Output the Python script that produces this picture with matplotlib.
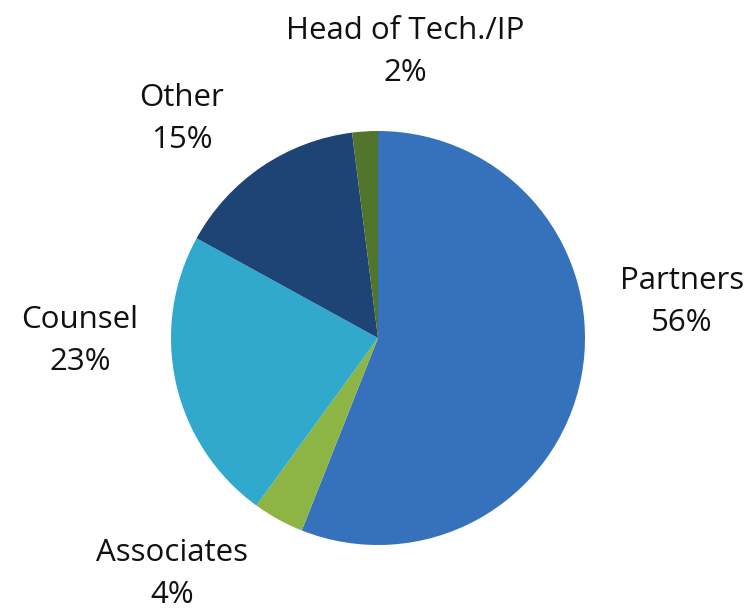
import matplotlib.pyplot as plt

# Data
labels = ['Partners', 'Associates', 'Counsel', 'Other', 'Head of Tech./IP']
shares = [56, 4, 23, 15, 2]
colors = ['#3672bb', '#8db545', '#31a9cc', '#1e4475', '#52742b']

# label anchor positions (pixels, top-left origin) for the text blocks
label_pos = [(682, 302), (172, 574), (80, 341), (182, 119), (405, 52)]

W, H = 753, 609
fig = plt.figure(figsize=(W / 100, H / 100), dpi=100)
fig.patch.set_facecolor('white')
ax = fig.add_axes([0, 0, 1, 1])

ax.pie(shares, colors=colors, startangle=90, counterclock=False,
       center=(378, H - 338), radius=207, frame=True,
       wedgeprops=dict(linewidth=0))
ax.set_xlim(0, W)
ax.set_ylim(0, H)
ax.set_aspect('equal')
ax.axis('off')

for lab, val, (x, y) in zip(labels, shares, label_pos):
    ax.text(x, H - y, f'{lab}\n{val}%', ha='center', va='center',
            fontsize=22.5, family='Open Sans', color='#111111', linespacing=1.5)

plt.savefig('out.png', dpi=100, facecolor='white')
